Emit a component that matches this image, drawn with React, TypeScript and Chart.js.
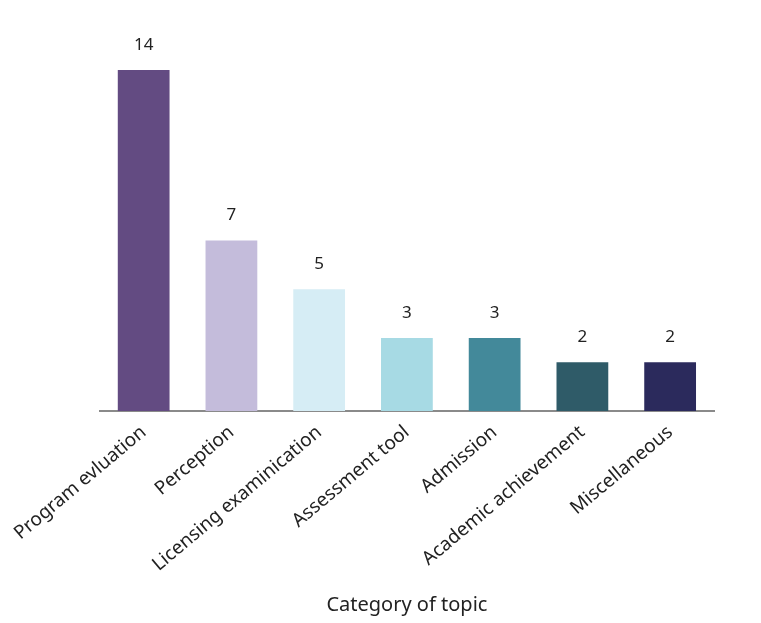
import React, { useEffect, useRef } from "react";
import { Chart, registerables } from "chart.js";

Chart.register(...registerables);

const categories = [
  "Program evluation",
  "Perception",
  "Licensing examinication",
  "Assessment tool",
  "Admission",
  "Academic achievement",
  "Miscellaneous",
];
const counts = [14, 7, 5, 3, 3, 2, 2];
const barColors = ["#634b82", "#c4bcdb", "#d6edf5", "#a7dae4", "#43899a", "#2f5b68", "#2b2a5c"];
const axisTitle = "Category of topic";

const FONT = "'Noto Sans', sans-serif";

const valueLabels = {
  id: "valueLabels",
  afterDatasetsDraw(chart: any) {
    const ctx = chart.ctx;
    const meta = chart.getDatasetMeta(0);
    ctx.save();
    ctx.font = `17px ${FONT}`;
    ctx.fillStyle = "#222";
    ctx.textAlign = "center";
    ctx.textBaseline = "middle";
    meta.data.forEach((bar: any, i: number) => {
      ctx.fillText(String(chart.data.datasets[0].data[i]), bar.x, bar.y - 25);
    });
    ctx.restore();
  },
};

export default function App() {
  const ref = useRef<HTMLCanvasElement>(null);
  useEffect(() => {
    if (!ref.current) return;
    const chart = new Chart(ref.current, {
      type: "bar",
      data: {
        labels: categories,
        datasets: [
          {
            data: counts,
            backgroundColor: barColors,
            barPercentage: 0.59,
            categoryPercentage: 1,
          },
        ],
      },
      options: {
        animation: false,
        responsive: false,
        maintainAspectRatio: false,
        layout: { padding: { left: 99, right: 47, top: 70, bottom: 6 } },
        plugins: { legend: { display: false }, tooltip: { enabled: false } },
        scales: {
          y: { display: false, min: 0, max: 14 },
          x: {
            grid: { display: false, drawTicks: false },
            border: { display: true, color: "#8a8a8a", width: 2 },
            ticks: {
              color: "#222",
              font: { family: FONT, size: 19 },
              minRotation: 40,
              maxRotation: 40,
              padding: 10,
            },
            title: {
              display: true,
              text: axisTitle,
              color: "#222",
              font: { family: FONT, size: 20 },
              padding: { top: 7, bottom: 0 },
            },
          },
        },
      },
      plugins: [valueLabels],
    });
    return () => chart.destroy();
  }, []);
  return (
    <div style={{ position: "absolute", left: 0, top: 0, width: 761, height: 623, background: "#fff" }}>
      <canvas ref={ref} width={761} height={623} style={{ width: 761, height: 623 }} />
    </div>
  );
}
